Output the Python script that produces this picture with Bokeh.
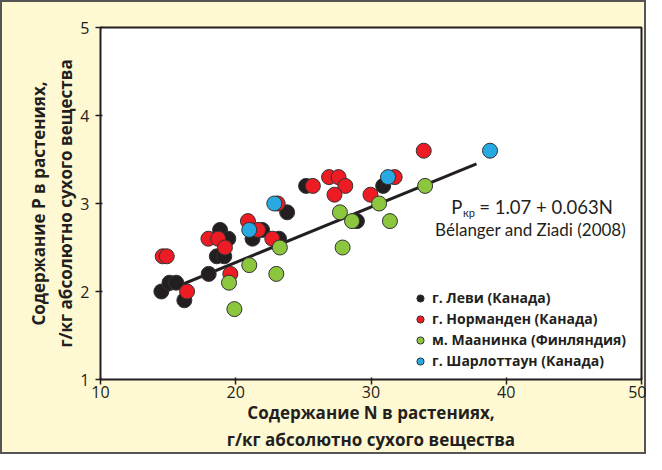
from bokeh.plotting import figure
from bokeh.models import Legend, LegendItem, Label, FixedTicker, Range1d
from bokeh.embed import file_html
from bokeh.resources import INLINE

# Data (N, P in g/kg dry matter)
levi_n = [14.5, 15.1, 15.6, 16.2, 18.0, 18.6, 19.15, 18.84, 19.45, 21.24, 21.95, 23.2, 23.8, 25.2, 28.96, 30.9]
levi_p = [2.0, 2.1, 2.1, 1.9, 2.2, 2.4, 2.4, 2.7, 2.6, 2.6, 2.7, 2.6, 2.9, 3.2, 2.8, 3.2]

norm_n = [14.6, 14.9, 16.4, 17.98, 18.7, 19.2, 19.6, 20.9, 21.65, 22.7, 23.1, 25.7, 26.9, 27.6, 28.1, 27.3, 29.96, 31.75, 33.9]
norm_p = [2.4, 2.4, 2.0, 2.6, 2.6, 2.5, 2.2, 2.8, 2.7, 2.6, 3.0, 3.2, 3.3, 3.3, 3.2, 3.1, 3.1, 3.3, 3.6]

maan_n = [19.5, 19.9, 21.0, 23.0, 23.26, 27.7, 28.6, 27.9, 30.6, 31.4, 34.0]
maan_p = [2.1, 1.8, 2.3, 2.2, 2.5, 2.9, 2.8, 2.5, 3.0, 2.8, 3.2]

charl_n = [21.0, 22.85, 31.26, 38.8]
charl_p = [2.7, 3.0, 3.3, 3.6]

series_names = ["г. Леви (Канада)", "г. Норманден (Канада)", "м. Маанинка (Финляндия)", "г. Шарлоттаун (Канада)"]
series_colors = ["#231f20", "#ed1c24", "#8cc63f", "#27aae1"]

fit_n = [14.4, 37.8]
fit_a, fit_b = 1.07, 0.063
fit_p = [fit_a + fit_b * n for n in fit_n]

x_ticks = [10, 20, 30, 40, 50]
y_ticks = [1, 2, 3, 4, 5]

bg = "#fff9d3"
p = figure(width=646, height=454, output_backend="svg", toolbar_location=None,
           x_range=Range1d(10, 50), y_range=Range1d(1, 5),
           min_border_left=100, min_border_right=5, min_border_top=27, min_border_bottom=60)
p.border_fill_color = None
p.styles = {"background-color": bg, "box-shadow": "inset 0 0 0 2px #555"}
p.background_fill_color = "white"
p.outline_line_color = "#231f20"
p.outline_line_width = 2
p.grid.visible = False

for ax in (p.xaxis, p.yaxis):
    ax.axis_line_color = None
    ax.major_tick_line_color = "#231f20"
    ax.major_tick_line_width = 1.5
    ax.major_tick_out = 5
    ax.major_tick_in = 2
    ax.minor_tick_line_color = None
    ax.major_label_text_font = "Open Sans"
    ax.major_label_text_font_size = "16px"
    ax.major_label_text_color = "#231f20"
    ax.axis_label_text_font = "Open Sans"
    ax.axis_label_text_font_style = "bold"
    ax.axis_label_text_font_size = "17px"
    ax.axis_label_text_color = "#231f20"

p.xaxis.ticker = FixedTicker(ticks=x_ticks)
p.yaxis.ticker = FixedTicker(ticks=y_ticks)
p.xaxis.axis_label = "Содержание N в растениях,\nг/кг абсолютно сухого вещества"
p.yaxis.axis_label = "Содержание P в растениях,\nг/кг абсолютно сухого вещества"
p.xaxis.major_label_standoff = 1
p.yaxis.major_label_standoff = 6
p.xaxis.axis_label_standoff = 0
p.yaxis.axis_label_standoff = 0

p.line(fit_n, fit_p, line_color="#231f20", line_width=3)

renderers = []
for xs, ys, col in zip([levi_n, norm_n, maan_n, charl_n], [levi_p, norm_p, maan_p, charl_p], series_colors):
    r = p.scatter(xs, ys, size=15, fill_color=col, line_color="#333333", line_width=1)
    renderers.append(r)

legend = Legend(items=[LegendItem(label=n, renderers=[r]) for n, r in zip(series_names, renderers)],
                location=(311, 9), padding=0, margin=0, spacing=2,
                background_fill_alpha=0, border_line_color=None,
                label_text_font="Open Sans", label_text_font_style="bold",
                label_text_font_size="14px", label_text_color="#231f20",
                glyph_width=18, glyph_height=18, label_standoff=3, label_height=18)
p.add_layout(legend)

eq_font = "Lato"
p.add_layout(Label(x=35.93, y=2.96, text="P", text_font=eq_font, text_font_size="18.5px",
                   text_baseline="middle", text_color="#231f20"))
p.add_layout(Label(x=36.8, y=2.90, text="кр", text_font=eq_font, text_font_size="11px",
                   text_baseline="middle", text_color="#231f20"))
p.add_layout(Label(x=38.0, y=2.96, text="= 1.07 + 0.063N", text_font=eq_font, text_font_size="18.5px",
                   text_baseline="middle", text_color="#231f20"))
p.add_layout(Label(x=41.8, y=2.70, text="Bélanger and Ziadi (2008)", text_font=eq_font,
                   text_font_size="17px", text_align="center", text_baseline="middle",
                   text_color="#231f20"))

open("out.html", "w").write(file_html(p, INLINE))
